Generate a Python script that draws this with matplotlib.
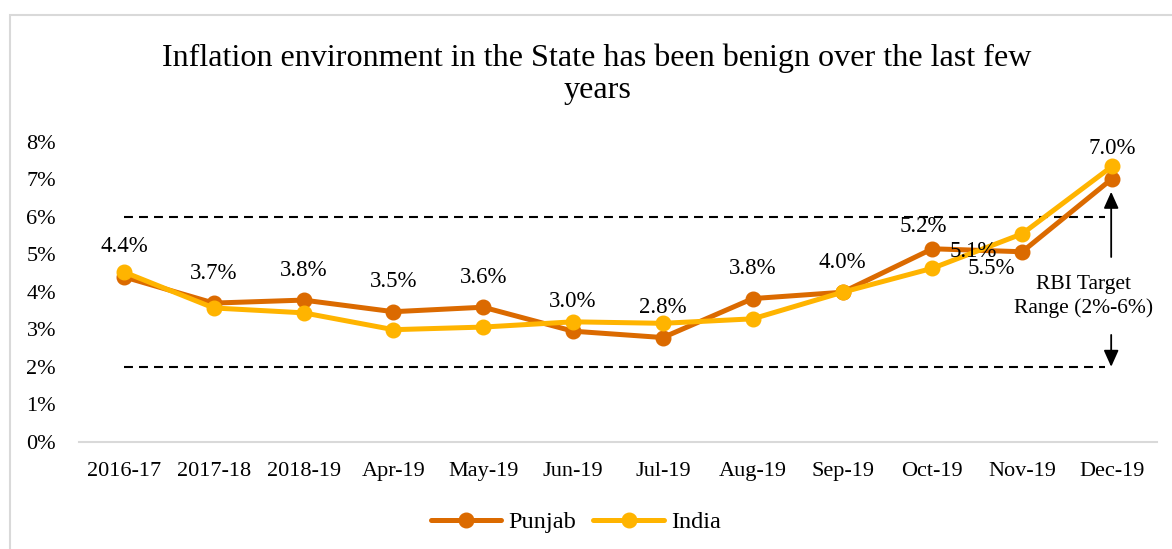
import matplotlib
matplotlib.use("Agg")
import matplotlib.pyplot as plt
from matplotlib.ticker import FuncFormatter
from matplotlib.patches import Rectangle

plt.rcParams['font.family'] = ['Liberation Serif', 'DejaVu Serif']

categories = ["2016-17", "2017-18", "2018-19", "Apr-19", "May-19", "Jun-19",
              "Jul-19", "Aug-19", "Sep-19", "Oct-19", "Nov-19", "Dec-19"]
punjab = [4.40, 3.70, 3.78, 3.47, 3.59, 2.95, 2.78, 3.82, 3.99, 5.15, 5.07, 7.02]
india = [4.53, 3.57, 3.44, 2.99, 3.06, 3.20, 3.16, 3.28, 3.99, 4.63, 5.55, 7.35]
punjab_labels = ["4.4%", "3.7%", "3.8%", "3.5%", "3.6%", "3.0%", "2.8%",
                 "3.8%", "4.0%", "5.2%", "5.1%", "7.0%"]
india_nov_label = "5.5%"
rbi_low, rbi_high = 2, 6
title = "Inflation environment in the State has been benign over the last few\nyears"

c_punjab = "#DB6A00"
c_india = "#FFB400"

fig = plt.figure(figsize=(11.72, 5.49), dpi=100)
W, H = 1172, 549
ax = fig.add_axes([79 / W, 1 - 441.7 / H, (1157 - 79) / W, (441.7 - 142) / H])

x = list(range(len(categories)))
ax.plot(x, punjab, color=c_punjab, lw=3.6, marker='o', ms=10.5, label="Punjab",
        solid_capstyle='round', zorder=3)
ax.plot(x, india, color=c_india, lw=3.6, marker='o', ms=10.5, label="India",
        solid_capstyle='round', zorder=4)

# RBI target lines
for lvl in (rbi_low, rbi_high):
    ln, = ax.plot([0, 10.92], [lvl, lvl], color='black', lw=1.5, zorder=2)
    ln.set_dashes((4.3, 2.9))

# data labels (offsets in pixels -> points)
px = 72 / 100
offsets = [(0, 30)] * 12
offsets[9] = (-9, 22)
offsets[10] = (-49, 0)
for i, (lab, (dx, dy)) in enumerate(zip(punjab_labels, offsets)):
    ax.annotate(lab, (x[i], punjab[i]), xytext=(dx * px, dy * px),
                textcoords='offset points', ha='center', va='center',
                fontsize=16.5, zorder=6)
ax.annotate(india_nov_label, (x[10], india[10]), xytext=(-31 * px, -35 * px),
            textcoords='offset points', ha='center', va='center',
            fontsize=16.5, zorder=6)

# RBI arrows and text
ax.annotate("", xy=(10.99, 6.67), xytext=(10.99, 4.93),
            arrowprops=dict(arrowstyle='-|>,head_length=1.0,head_width=0.45',
                            color='black', lw=1.3, shrinkA=0, shrinkB=0))
ax.annotate("", xy=(10.99, 2.0), xytext=(10.99, 2.85),
            arrowprops=dict(arrowstyle='-|>,head_length=1.0,head_width=0.45',
                            color='black', lw=1.3, shrinkA=0, shrinkB=0))
ax.text(10.68, 3.88, "RBI Target\nRange (2%-6%)", ha='center', va='center',
        fontsize=15.5, linespacing=1.25)

ax.set_xlim(-0.5, 11.5)
ax.set_ylim(0, 8)
ax.set_yticks(range(0, 9))
ax.yaxis.set_major_formatter(FuncFormatter(lambda v, p: f"{int(v)}%"))
ax.set_xticks(x)
ax.set_xticklabels(categories)
ax.tick_params(axis='both', length=0, labelsize=16)
ax.tick_params(axis='y', pad=16.5)
ax.tick_params(axis='x', pad=14.5)
for s in ('top', 'right', 'left'):
    ax.spines[s].set_visible(False)
ax.spines['bottom'].set_color('#D9D9D9')
ax.spines['bottom'].set_linewidth(1.5)

fig.text(597 / W, 1 - 74 / H, title, ha='center', va='center', fontsize=23.1,
         linespacing=1.15)

fig.legend(loc='center', bbox_to_anchor=(576 / W, 1 - 522 / H), ncol=2,
           frameon=False, fontsize=17.5, handlelength=2.9, columnspacing=0.7,
           handletextpad=0.3)

# outer chart border
fig.patches.append(Rectangle((10 / W, -0.1), 1.2, (1 - 14.5 / H) + 0.1,
                             transform=fig.transFigure, fill=False,
                             edgecolor='#D9D9D9', lw=1.5, zorder=0))

fig.savefig("out.png", dpi=100)
